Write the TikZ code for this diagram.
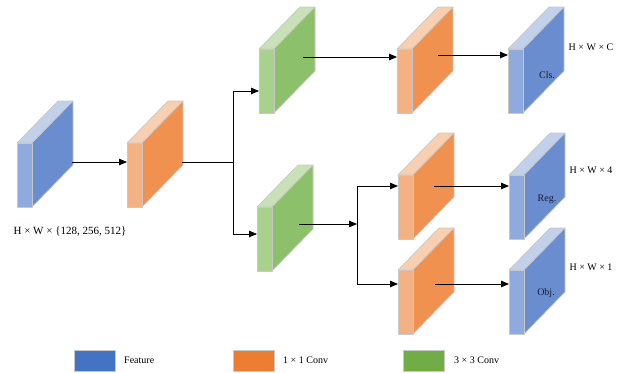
\documentclass[tikz,border=0pt]{standalone}
\usepackage{fontspec}
\setmainfont{Liberation Serif}
\usetikzlibrary{arrows.meta,calc}
\definecolor{edgec}{HTML}{C8C8C8}
\definecolor{bside}{HTML}{6A8DCF}
\definecolor{bfront}{HTML}{8FAADC}
\definecolor{btop}{HTML}{C3D0EA}
\definecolor{oside}{HTML}{F09150}
\definecolor{ofront}{HTML}{F4B183}
\definecolor{otop}{HTML}{F9CFB2}
\definecolor{gside}{HTML}{8DC06A}
\definecolor{gfront}{HTML}{A9D18E}
\definecolor{gtop}{HTML}{C8E1B7}
\definecolor{lblue}{HTML}{4472C4}
\definecolor{lorange}{HTML}{ED7D31}
\definecolor{lgreen}{HTML}{70AD47}
\definecolor{lbl}{HTML}{1A1A2E}
\tikzset{
  face/.style={draw=edgec, line width=0.7pt, line join=round},
  pics/cuboid/.style n args={3}{code={
    \draw[face, fill=#3] (0,0) -- (15,0) -- (56,-42) -- (41,-42) -- cycle;
    \draw[face, fill=#1] (15,0) -- (56,-42) -- (56,22) -- (15,64) -- cycle;
    \draw[face, fill=#2] (0,0) rectangle (15,64);
    \coordinate (-nw) at (0,0);
  }},
  conn/.style={line width=0.8pt, -{Triangle[length=8pt,width=6.5pt]}},
  plain/.style={line width=0.8pt},
  txt/.style={font=\fontsize{10}{12}\selectfont, text=black, inner sep=0pt},
  inlbl/.style={font=\fontsize{10}{12}\selectfont, text=lbl, inner sep=0pt},
  legbox/.style={draw=edgec, line width=0.6pt, minimum width=41pt, minimum height=21pt, inner sep=0pt},
}
\begin{document}
\begin{tikzpicture}[x=1pt,y=-1pt]
\useasboundingbox (0,0) rectangle (634,372);
% blocks
\pic (F0) at (17,143) {cuboid={bside}{bfront}{btop}};
\pic (O0) at (127,143) {cuboid={oside}{ofront}{otop}};
\pic (G1) at (259,49) {cuboid={gside}{gfront}{gtop}};
\pic (G2) at (257,207) {cuboid={gside}{gfront}{gtop}};
\pic (O1) at (397,49) {cuboid={oside}{ofront}{otop}};
\pic (O2) at (398,175) {cuboid={oside}{ofront}{otop}};
\pic (O3) at (398,270) {cuboid={oside}{ofront}{otop}};
\pic (B1) at (508,49) {cuboid={bside}{bfront}{btop}};
\pic (B2) at (509,175) {cuboid={bside}{bfront}{btop}};
\pic (B3) at (509,270) {cuboid={bside}{bfront}{btop}};
% connection points
\coordinate (F0-out) at (72,162);
\coordinate (O0-out) at (182,162);
\coordinate (J1) at (233,162);
\coordinate (J1t) at (233,91);
\coordinate (J1b) at (233,234);
\coordinate (G1-out) at (303,57);
\coordinate (O1-out) at (438,55);
\coordinate (G2-out) at (299,224);
\coordinate (J2t) at (357,186);
\coordinate (J2b) at (357,284);
\coordinate (O2-out) at (434,186);
\coordinate (O3-out) at (435,284);
% connectors
\draw[conn] (F0-out) -- (F0-out -| O0-nw);
\draw[plain] (O0-out) -- (J1);
\draw[plain] (J1t) -- (J1b);
\draw[conn] (J1t) -- (J1t -| G1-nw);
\draw[conn] (J1b) -- (J1b -| G2-nw);
\draw[conn] (G1-out) -- (G1-out -| O1-nw);
\draw[conn] (O1-out) -- (O1-out -| B1-nw);
\draw[conn] (G2-out) -- (G2-out -| J2t);
\draw[plain] (J2t) -- (J2b);
\draw[conn] (J2t) -- (J2t -| O2-nw);
\draw[conn] (J2b) -- (J2b -| O3-nw);
\draw[conn] (O2-out) -- (O2-out -| B2-nw);
\draw[conn] (O3-out) -- (O3-out -| B3-nw);
% labels
\node[txt, font=\fontsize{11}{13}\selectfont] (tin) at (70,232) {H × W × \{128, 256, 512\}};
\node[txt] (tc) at (591,47) {H × W × C};
\node[txt] (t4) at (591,170) {H × W × 4};
\node[txt] (t1) at (591,267) {H × W × 1};
\node[inlbl] (cls) at (547,75) {Cls.};
\node[inlbl] (reg) at (547,199) {Reg.};
\node[inlbl] (obj) at (546,293) {Obj.};
% legend
\node[legbox, fill=lblue] (L1) at (94.5,360.5) {};
\node[txt, anchor=west] (L1t) at (124,360.5) {Feature};
\node[legbox, fill=lorange] (L2) at (254,360.5) {};
\node[txt, anchor=west] (L2t) at (283,360.5) {1 × 1 Conv};
\node[legbox, fill=lgreen] (L3) at (424,360.5) {};
\node[txt, anchor=west] (L3t) at (454,360.5) {3 × 3 Conv};
\end{tikzpicture}
\end{document}
